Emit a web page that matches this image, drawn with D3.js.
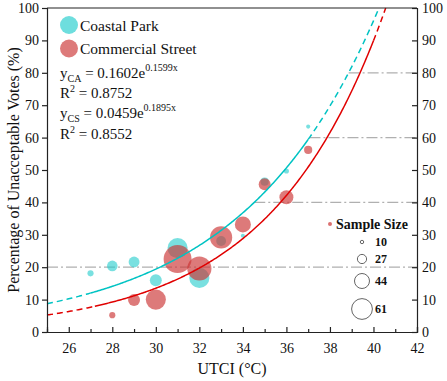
<!DOCTYPE html>
<html lang="en">
<head>
<meta charset="UTF-8">
<title>Unacceptable votes vs UTCI</title>
<script src="https://d3js.org/d3.v7.min.js"></script>
<style>
    body { margin: 0; background: #fff; }
    svg { font-family: "Liberation Serif", "Times New Roman", Times, serif; }
    svg text { fill: #111; }
    .axis path, .axis line { stroke: #222; stroke-width: 1.2px; }
    .axis text { font-size: 14px; }
</style>
</head>
<body>
<div id="chart"></div>
<script>
// UTCI values (°C)
const utciCA = [27, 28, 29, 30, 31, 32, 33, 34, 35, 36, 37];
const votesCA = [18.1, 20.4, 21.6, 16.0, 25.9, 16.7, 28.1, 29.7, 46.4, 49.7, 63.4];
const sizeCA = [18, 31, 32, 35, 59, 59, 29, 12, 24, 15, 12];

const utciCS = [28, 29, 30, 31, 32, 33, 34, 35, 36, 37];
const votesCS = [5.2, 9.9, 10.0, 22.5, 19.6, 29.2, 33.2, 45.6, 41.6, 56.2];
const sizeCS = [18, 35, 59, 82, 71, 65, 47, 35, 41, 24];

// fitted curves y = a * exp(b x); solid over [lo, hi], dashed elsewhere
const fitCA = { a: 0.1602, b: 0.1599, lo: 27, hi: 37 };
const fitCS = { a: 0.0459, b: 0.1895, lo: 27.2, hi: 40 };

const refLevels = [20, 40, 60, 80];
const legendSizes = [10, 27, 44, 61];
const xTicks = [26, 28, 30, 32, 34, 36, 38, 40, 42];
const yTicks = [0, 10, 20, 30, 40, 50, 60, 70, 80, 90, 100];

const W = 447, H = 381;
const cyan = "#00c3c3", red = "#e00000";
const serif = "'Liberation Serif', 'Times New Roman', Times, serif";

const svg = d3.select("#chart").append("svg")
    .attr("width", W).attr("height", H)
    .attr("font-family", serif);

const x = d3.scaleLinear().domain([25, 42]).range([47, 417]);
const y = d3.scaleLinear().domain([0, 100]).range([332, 8]);
const r = d3.scaleLinear().domain([0, 61]).range([0, 10.4]);

// reference dash-dot lines
refLevels.forEach(v => {
    // 20 spans the whole plot, the others start where the CA curve reaches them
    const x0 = v === 20 ? 25 : Math.log(v / fitCA.a) / fitCA.b;
    svg.append("line")
        .attr("x1", x(x0)).attr("x2", x(42))
        .attr("y1", y(v)).attr("y2", y(v))
        .attr("stroke", "#b0b0b0").attr("stroke-width", 1.3)
        .attr("stroke-dasharray", "11,3,2,3");
});

// bubbles: cyan first, red on top
const caData = utciCA.map((u, i) => ({ u, v: votesCA[i], n: sizeCA[i] }));
const csData = utciCS.map((u, i) => ({ u, v: votesCS[i], n: sizeCS[i] }));

svg.append("g").selectAll("circle").data(caData).join("circle")
    .attr("cx", d => x(d.u)).attr("cy", d => y(d.v)).attr("r", d => r(d.n))
    .attr("fill", "#20cccc").attr("fill-opacity", 0.6);

svg.append("g").selectAll("circle").data(csData).join("circle")
    .attr("cx", d => x(d.u)).attr("cy", d => y(d.v)).attr("r", d => r(d.n))
    .attr("fill", "#cc3535").attr("fill-opacity", 0.66);

// fitted curves
function drawFit(f, color) {
    const xEnd = Math.min(42, Math.log(100 / f.a) / f.b);
    const seg = (a, b) => d3.range(a, b, 0.05).concat([b]);
    const line = d3.line().x(d => x(d)).y(d => y(f.a * Math.exp(f.b * d)));
    const parts = [
        { pts: seg(25, f.lo), dash: "6,4" },
        { pts: seg(f.lo, Math.min(f.hi, xEnd)), dash: null },
        { pts: seg(Math.min(f.hi, xEnd), xEnd), dash: "6,4" }
    ];
    parts.forEach(p => {
        if (p.pts.length < 2) return;
        svg.append("path").datum(p.pts)
            .attr("d", line).attr("fill", "none")
            .attr("stroke", color).attr("stroke-width", 1.5)
            .attr("stroke-dasharray", p.dash);
    });
}
drawFit(fitCA, cyan);
drawFit(fitCS, red);

// axes
svg.append("g").attr("class", "axis")
    .attr("transform", `translate(0,${y(0)})`)
    .call(d3.axisBottom(x).tickValues(d3.range(25, 43)).tickSize(-5)
        .tickFormat(d => xTicks.includes(d) ? d : ""))
    .call(g => g.attr("font-family", serif))
    .call(g => g.selectAll(".tick line").attr("y2", d => xTicks.includes(d) ? -5 : -3))
    .call(g => g.selectAll(".tick text").attr("dy", "1.3em"));

svg.append("g").attr("class", "axis")
    .attr("transform", `translate(${x(25)},0)`)
    .call(d3.axisLeft(y).tickValues(yTicks).tickSize(5).tickPadding(3))
    .call(g => g.attr("font-family", serif));

svg.append("g").attr("class", "axis")
    .attr("transform", `translate(${x(42)},0)`)
    .call(d3.axisRight(y).tickValues(yTicks).tickSize(-5).tickPadding(4))
    .call(g => g.attr("font-family", serif))
    .call(g => g.selectAll(".tick text").attr("x", 5));

svg.append("line")
    .attr("x1", x(25)).attr("x2", x(42)).attr("y1", y(100)).attr("y2", y(100))
    .attr("stroke", "#222").attr("stroke-width", 1.2);

// axis titles
svg.append("text")
    .attr("transform", `translate(19,${(y(0) + y(100)) / 2}) rotate(-90)`)
    .attr("text-anchor", "middle").attr("font-size", 16)
    .text("Percentage of Unacceptable Votes (%)");

svg.append("text")
    .attr("x", (x(25) + x(42)) / 2).attr("y", 374)
    .attr("text-anchor", "middle").attr("font-size", 16)
    .text("UTCI (°C)");

// series legend
const leg = [["Coastal Park", "#20cccc", 0.65], ["Commercial Street", "#cc3535", 0.66]];
leg.forEach((l, i) => {
    svg.append("circle").attr("cx", 69).attr("cy", 25 + i * 23.5).attr("r", 9)
        .attr("fill", l[1]).attr("fill-opacity", l[2]);
    svg.append("text").attr("x", 80).attr("y", 30.5 + i * 23.5)
        .attr("font-size", 15.5).text(l[0]);
});

// equations
function eq(yPos, sub, coef, expo) {
    const t = svg.append("text").attr("x", 60).attr("y", yPos).attr("font-size", 15);
    t.append("tspan").text("y");
    t.append("tspan").attr("font-size", 10).attr("dy", 4).text(sub);
    t.append("tspan").attr("dy", -4).text(" = " + coef + "e");
    t.append("tspan").attr("font-size", 10).attr("dy", -7).text(expo);
}
function r2(yPos, val) {
    const t = svg.append("text").attr("x", 60).attr("y", yPos).attr("font-size", 15);
    t.append("tspan").text("R");
    t.append("tspan").attr("font-size", 10).attr("dy", -6).text("2");
    t.append("tspan").attr("dy", 6).text(" = " + val);
}
eq(78, "CA", "0.1602", "0.1599x");
r2(98, "0.8752");
eq(118, "CS", "0.0459", "0.1895x");
r2(139, "0.8552");

// sample size legend
svg.append("circle").attr("cx", 330).attr("cy", 224).attr("r", 2)
    .attr("fill", "#cc3535").attr("fill-opacity", 0.7);
svg.append("text").attr("x", 336).attr("y", 229)
    .attr("font-size", 14).attr("font-weight", "bold").text("Sample Size");
const legY = [242, 259, 281, 309];
legendSizes.forEach((s, i) => {
    svg.append("circle").attr("cx", 362).attr("cy", legY[i]).attr("r", r(s))
        .attr("fill", "none").attr("stroke", "#666").attr("stroke-width", 1);
    svg.append("text").attr("x", 375).attr("y", legY[i] + 4)
        .attr("font-size", 12).attr("font-weight", "bold").text(s);
});
</script>
</body>
</html>
